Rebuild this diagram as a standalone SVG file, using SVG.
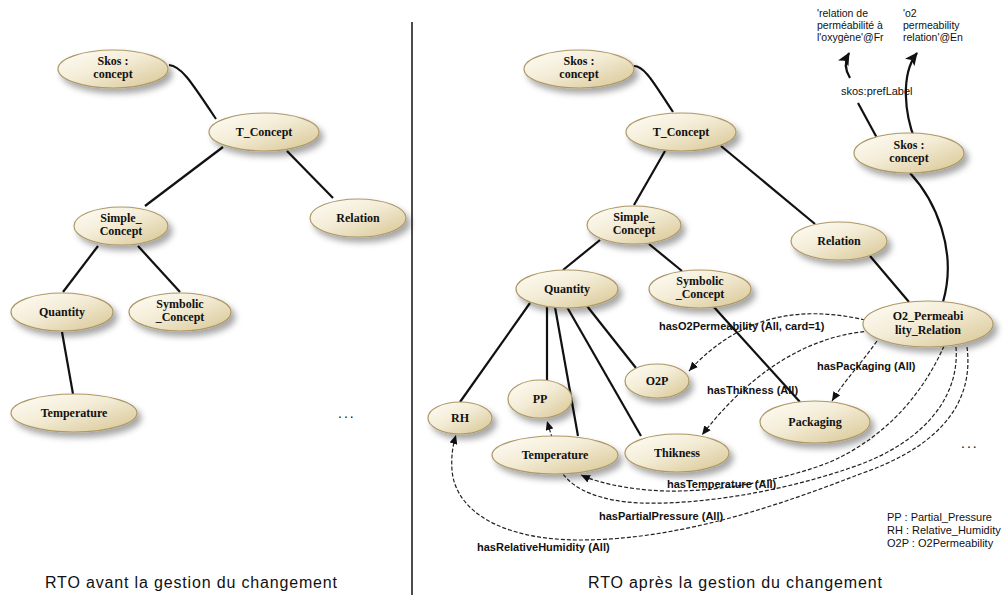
<svg xmlns="http://www.w3.org/2000/svg" width="1007" height="595" viewBox="0 0 1007 595">
<defs>
<linearGradient id="g" x1="0" y1="0" x2="1" y2="1">
<stop offset="0" stop-color="#fffdf7"/>
<stop offset="0.45" stop-color="#f3ecd6"/>
<stop offset="1" stop-color="#d7c591"/>
</linearGradient>
<filter id="sh" x="-30%" y="-40%" width="170%" height="190%">
<feDropShadow dx="4" dy="5" stdDeviation="3" flood-color="#000" flood-opacity="0.35"/>
</filter>
<marker id="ah" markerUnits="userSpaceOnUse" markerWidth="10" markerHeight="8" refX="9" refY="4" orient="auto">
<path d="M0,0 L9,4 L0,8 z" fill="#111"/>
</marker>
<marker id="ahb" markerUnits="userSpaceOnUse" markerWidth="14" markerHeight="12" refX="12" refY="6" orient="auto">
<path d="M0,0 L13,6 L0,12 L3,6 z" fill="#111"/>
</marker>
<style>
.n ellipse{fill:url(#g);stroke:#ad9866;stroke-width:1.2;filter:url(#sh)}
.n text{font-family:"Liberation Serif","Times New Roman",serif;font-weight:bold;font-size:12px;fill:#111;text-anchor:middle}
.e{fill:none;stroke:#111;stroke-width:2.2}
.d{fill:none;stroke:#222;stroke-width:1.2;stroke-dasharray:4 2;marker-end:url(#ah)}
.lbl{font-family:"Liberation Sans",Arial,sans-serif;font-weight:bold;font-size:11px;fill:#111}
.plain{font-family:"Liberation Sans",Arial,sans-serif;font-size:11px;fill:#111}
.top{font-family:"Liberation Sans",Arial,sans-serif;font-size:10.5px;fill:#111}
.dots{font-family:"Liberation Sans",Arial,sans-serif;font-size:14px;fill:#111;letter-spacing:2px}
.cap{font-family:"Liberation Sans",Arial,sans-serif;font-size:16px;fill:#111}
</style>
</defs>
<rect width="1007" height="595" fill="#fff"/>
<line x1="412" y1="22" x2="412" y2="595" stroke="#111" stroke-width="1.5"/>

<g id="connectors">
<path class="e" d="M169,65 C181,66 190,80 216,119"/>
<path class="e" d="M223,147 L145,206"/>
<path class="e" d="M287,151 L333,198"/>
<path class="e" d="M98,246 L63,292"/>
<path class="e" d="M138,246 L180,292"/>
<path class="e" d="M62,332 L73,394"/>
<path class="e" d="M634,66 C645,66 655,85 673,112"/>
<path class="e" d="M665,151 L634,205"/>
<path class="e" d="M721,146 L815,224"/>
<path class="e" d="M600,240 L563,270"/>
<path class="e" d="M649,244 L682,271"/>
<path class="e" d="M870,256 L909,302"/>
<path class="e" d="M910,173 C935,200 958,250 943,302"/>
<path class="e" d="M713,306 L800,402"/>
<path class="e" d="M530,303 L460,402"/>
<path class="e" d="M547,307 L547,380"/>
<path class="e" d="M555,307 L578,436"/>
<path class="e" d="M567,307 L641,436"/>
<path class="e" d="M587,306 L636,368"/>
<path class="e" d="M877,138 L858,103"/>
<path class="e" d="M850,78 C845,70 844,62 849,53" marker-end="url(#ahb)"/>
<path class="e" d="M915,140 C905,115 900,75 917,53" marker-end="url(#ahb)"/>
<path class="d" d="M865,320 C800,305 740,315 689,371"/>
<path class="d" d="M870,331 C820,335 760,360 702,435"/>
<path class="d" d="M877,341 C860,365 845,380 832,401"/>
<path class="d" d="M944,346 C920,400 880,440 830,462 C790,478 730,490 680,491 C640,492 600,484 581,475"/>
<path class="d" d="M956,347 C960,400 920,445 850,468 C780,492 700,505 640,503 C600,501 575,490 563,474 L547,421"/>
<path class="d" d="M967,347 C975,410 930,450 860,474 C780,505 680,540 580,540 C500,540 455,510 452,470 C451,455 453,445 456,435"/>
</g>

<g id="L_skos" class="n"><ellipse cx="113" cy="69" rx="55" ry="19"/><text x="113" y="65">Skos :</text><text x="113" y="78">concept</text></g>
<g id="L_tconcept" class="n"><ellipse cx="264" cy="132" rx="55" ry="19"/><text x="264" y="136">T_Concept</text></g>
<g id="L_relation" class="n"><ellipse cx="358" cy="218" rx="48" ry="19"/><text x="358" y="222">Relation</text></g>
<g id="L_simple" class="n"><ellipse cx="121" cy="226" rx="47" ry="19"/><text x="121" y="222">Simple_</text><text x="121" y="235">Concept</text></g>
<g id="L_quantity" class="n"><ellipse cx="62" cy="312" rx="51" ry="19"/><text x="62" y="316">Quantity</text></g>
<g id="L_symbolic" class="n"><ellipse cx="180" cy="312" rx="51" ry="19"/><text x="180" y="308">Symbolic</text><text x="180" y="321">_Concept</text></g>
<g id="L_temperature" class="n"><ellipse cx="74" cy="413" rx="63" ry="19"/><text x="74" y="417">Temperature</text></g>
<text class="dots" x="338" y="418">...</text>

<g id="R_skos" class="n"><ellipse cx="579" cy="69" rx="55" ry="19"/><text x="579" y="65">Skos :</text><text x="579" y="78">concept</text></g>
<g id="R_tconcept" class="n"><ellipse cx="681" cy="132" rx="55" ry="19"/><text x="681" y="136">T_Concept</text></g>
<g id="R_simple" class="n"><ellipse cx="634" cy="225" rx="47" ry="19"/><text x="634" y="221">Simple_</text><text x="634" y="234">Concept</text></g>
<g id="R_relation" class="n"><ellipse cx="839" cy="241" rx="48" ry="19"/><text x="839" y="245">Relation</text></g>
<g id="R_quantity" class="n"><ellipse cx="567" cy="289" rx="51" ry="19"/><text x="567" y="293">Quantity</text></g>
<g id="R_symbolic" class="n"><ellipse cx="700" cy="289" rx="51" ry="19"/><text x="700" y="285">Symbolic</text><text x="700" y="298">_Concept</text></g>
<g id="R_skos2" class="n"><ellipse cx="909" cy="153" rx="55" ry="20"/><text x="909" y="149">Skos :</text><text x="909" y="162">concept</text></g>
<g id="R_o2rel" class="n"><ellipse cx="928" cy="324" rx="65" ry="23"/><text x="928" y="320">O2_Permeabi</text><text x="928" y="334">lity_Relation</text></g>
<g id="R_packaging" class="n"><ellipse cx="815" cy="422" rx="55" ry="21"/><text x="815" y="426">Packaging</text></g>
<g id="R_o2p" class="n"><ellipse cx="657" cy="381" rx="32" ry="17"/><text x="657" y="385">O2P</text></g>
<g id="R_thikness" class="n"><ellipse cx="677" cy="453" rx="52" ry="19"/><text x="677" y="457">Thikness</text></g>
<g id="R_pp" class="n"><ellipse cx="540" cy="399" rx="32" ry="19"/><text x="540" y="403">PP</text></g>
<g id="R_rh" class="n"><ellipse cx="460" cy="418" rx="32" ry="16"/><text x="460" y="422">RH</text></g>
<g id="R_temperature" class="n"><ellipse cx="555" cy="455" rx="63" ry="19"/><text x="555" y="459">Temperature</text></g>
<text class="dots" x="961" y="448">...</text>

<g id="labels">
<text class="lbl" x="659" y="330">hasO2Permeability (All, card=1)</text>
<text class="lbl" x="707" y="394">hasThikness (All)</text>
<text class="lbl" x="817" y="370">hasPackaging (All)</text>
<text class="lbl" x="667" y="488">hasTemperature (All)</text>
<text class="lbl" x="599" y="520">hasPartialPressure (All)</text>
<text class="lbl" x="477" y="551">hasRelativeHumidity (All)</text>
<text class="plain" x="841" y="95">skos:prefLabel</text>
<text class="top" x="817" y="17">'relation de</text>
<text class="top" x="817" y="29">perméabilité à</text>
<text class="top" x="817" y="41">l'oxygène'@Fr</text>
<text class="top" x="903" y="17">'o2</text>
<text class="top" x="903" y="29">permeability</text>
<text class="top" x="903" y="41">relation'@En</text>
<text class="plain" x="887" y="521" font-size="11.5">PP : Partial_Pressure</text>
<text class="plain" x="887" y="534" font-size="11.5">RH : Relative_Humidity</text>
<text class="plain" x="887" y="547" font-size="11.5">O2P : O2Permeability</text>
<text class="cap" x="45" y="588" textLength="292" lengthAdjust="spacing">RTO avant la gestion du changement</text>
<text class="cap" x="588" y="588" textLength="294" lengthAdjust="spacing">RTO après la gestion du changement</text>
</g>
</svg>
